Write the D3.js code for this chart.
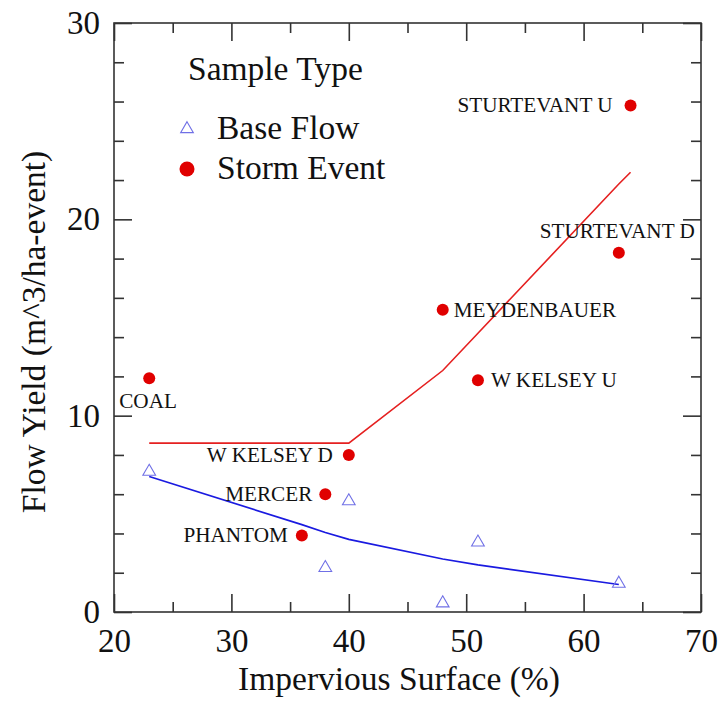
<!DOCTYPE html>
<html>
<head>
<meta charset="utf-8">
<script src="https://cdn.jsdelivr.net/npm/d3@7"></script>
<style>
  body { margin: 0; background: #fff; }
  svg text { font-family: "Liberation Serif", "DejaVu Serif", serif; fill: #111; }
</style>
</head>
<body>
<div id="chart"></div>
<script>
'use strict';

// storm event samples
var stormSites = ['COAL', 'PHANTOM', 'MERCER', 'W KELSEY D', 'MEYDENBAUER', 'W KELSEY U', 'STURTEVANT D', 'STURTEVANT U'];
var stormX = [23, 36, 38, 40, 48, 51, 63, 64];
var stormY = [11.9, 3.9, 6.0, 8.0, 15.4, 11.8, 18.3, 25.8];

// base flow samples
var baseX = [23, 38, 40, 48, 51, 63];
var baseY = [7.2, 2.3, 5.7, 0.5, 3.6, 1.5];

// fitted curves
var stormFitX = [23, 36, 38, 40, 48, 51, 63, 64];
var stormFitY = [8.6, 8.6, 8.6, 8.6, 12.3, 14.2, 21.8, 22.4];
var baseFitX = [23, 36, 38, 40, 48, 51, 63];
var baseFitY = [6.9, 4.45, 4.05, 3.7, 2.7, 2.4, 1.4];

var xTicks = [20, 30, 40, 50, 60, 70];
var yTicks = [0, 10, 20, 30];

var legendTitle = 'Sample Type';
var legendNames = ['Base Flow', 'Storm Event'];

// label placement for each storm site (same order as stormSites)
var labelPos = [
    { dx: -30, dy: 30, anchor: 'start' },
    { dx: -14, dy: 7, anchor: 'end' },
    { dx: -13, dy: 7, anchor: 'end' },
    { dx: -16, dy: 7, anchor: 'end' },
    { dx: 11, dy: 7, anchor: 'start' },
    { dx: 13, dy: 7, anchor: 'start' },
    { dx: 76, dy: -15, anchor: 'end' },
    { dx: -18, dy: 7, anchor: 'end' }
];

var width = 718,
    height = 704;

var margin = { top: 23, right: 17, bottom: 92, left: 114 };
var w = width - margin.left - margin.right,
    h = height - margin.top - margin.bottom;

var red = '#e00000',
    redLine = '#e52020',
    blueLine = '#1a1ae0',
    blueMark = '#7070e6',
    axisColor = '#333';

var svg = d3.select('#chart').append('svg')
    .attr('width', width)
    .attr('height', height);

var g = svg.append('g').attr('transform', 'translate(' + margin.left + ',' + margin.top + ')');

var x = d3.scaleLinear().domain([20, 70]).range([0, w]);
var y = d3.scaleLinear().domain([0, 30]).range([h, 0]);

var xMinor = d3.range(25, 70, 10);
var yMinor = d3.range(0, 30, 2).filter(function(v) { return v % 10 !== 0; });

function styleAxis(sel) {
    sel.select('.domain').remove();
    sel.selectAll('line').attr('stroke', axisColor).attr('stroke-width', 1.6);
}

// bottom
g.append('g').attr('transform', 'translate(0,' + h + ')')
    .call(d3.axisBottom(x).tickValues(xTicks).tickSizeInner(-18).tickSizeOuter(0).tickPadding(17))
    .call(styleAxis)
    .selectAll('text').attr('font-size', 33).attr('fill', '#111');
g.append('g').attr('transform', 'translate(0,' + h + ')')
    .call(d3.axisBottom(x).tickValues(xMinor).tickSize(-10).tickFormat(''))
    .call(styleAxis);
// top
g.append('g')
    .call(d3.axisTop(x).tickValues(xTicks).tickSize(-18).tickFormat(''))
    .call(styleAxis);
g.append('g')
    .call(d3.axisTop(x).tickValues(xMinor).tickSize(-10).tickFormat(''))
    .call(styleAxis);
// left
g.append('g')
    .call(d3.axisLeft(y).tickValues(yTicks).tickSizeInner(-18).tickSizeOuter(0).tickPadding(14))
    .call(styleAxis)
    .selectAll('text').attr('font-size', 33).attr('fill', '#111');
g.append('g')
    .call(d3.axisLeft(y).tickValues(yMinor).tickSize(-10).tickFormat(''))
    .call(styleAxis);
// right
g.append('g').attr('transform', 'translate(' + w + ',0)')
    .call(d3.axisRight(y).tickValues(yTicks).tickSize(-18).tickFormat(''))
    .call(styleAxis);
g.append('g').attr('transform', 'translate(' + w + ',0)')
    .call(d3.axisRight(y).tickValues(yMinor).tickSize(-10).tickFormat(''))
    .call(styleAxis);

g.append('rect')
    .attr('width', w)
    .attr('height', h)
    .attr('fill', 'none')
    .attr('stroke', axisColor)
    .attr('stroke-width', 1.6);

// axis titles
svg.append('text')
    .attr('x', 399)
    .attr('y', 690)
    .attr('text-anchor', 'middle')
    .attr('font-size', 33.5)
    .text('Impervious Surface (%)');

svg.append('text')
    .attr('transform', 'translate(45,332) rotate(-90)')
    .attr('text-anchor', 'middle')
    .attr('font-size', 33.5)
    .text('Flow Yield (m^3/ha-event)');

// fitted lines
var line = d3.line()
    .x(function(d) { return x(d[0]); })
    .y(function(d) { return y(d[1]); });

g.append('path')
    .datum(d3.zip(stormFitX, stormFitY))
    .attr('d', line)
    .attr('fill', 'none')
    .attr('stroke', redLine)
    .attr('stroke-width', 1.6);

g.append('path')
    .datum(d3.zip(baseFitX, baseFitY))
    .attr('d', line)
    .attr('fill', 'none')
    .attr('stroke', blueLine)
    .attr('stroke-width', 1.6);

// markers
var tri = d3.symbol().type(d3.symbolTriangle).size(70);

g.selectAll('.base')
    .data(d3.zip(baseX, baseY))
    .enter()
    .append('path')
    .attr('class', 'base')
    .attr('d', tri)
    .attr('transform', function(d) { return 'translate(' + x(d[0]) + ',' + (y(d[1]) + 1) + ')'; })
    .attr('fill', 'none')
    .attr('stroke', blueMark)
    .attr('stroke-width', 1.1);

var storms = d3.range(stormSites.length).map(function(i) {
    return { name: stormSites[i], x: stormX[i], y: stormY[i], pos: labelPos[i] };
});

g.selectAll('.storm')
    .data(storms)
    .enter()
    .append('circle')
    .attr('class', 'storm')
    .attr('cx', function(d) { return x(d.x); })
    .attr('cy', function(d) { return y(d.y); })
    .attr('r', 6)
    .attr('fill', red);

g.selectAll('.site')
    .data(storms)
    .enter()
    .append('text')
    .attr('class', 'site')
    .attr('x', function(d) { return x(d.x) + d.pos.dx; })
    .attr('y', function(d) { return y(d.y) + d.pos.dy; })
    .attr('text-anchor', function(d) { return d.pos.anchor; })
    .attr('font-size', 21.2)
    .attr('fill', '#222')
    .text(function(d) { return d.name; });

// legend
var legend = svg.append('g');
legend.append('text')
    .attr('x', 188)
    .attr('y', 80)
    .attr('font-size', 33.5)
    .text(legendTitle);

legend.append('path')
    .attr('d', tri)
    .attr('transform', 'translate(187,129)')
    .attr('fill', 'none')
    .attr('stroke', blueMark)
    .attr('stroke-width', 1.1);

legend.append('circle')
    .attr('cx', 187)
    .attr('cy', 169)
    .attr('r', 7.5)
    .attr('fill', red);

legend.selectAll('.lname')
    .data(legendNames)
    .enter()
    .append('text')
    .attr('class', 'lname')
    .attr('x', 217)
    .attr('y', function(d, i) { return 139 + i * 40; })
    .attr('font-size', 33.5)
    .text(function(d) { return d; });
</script>
</body>
</html>
